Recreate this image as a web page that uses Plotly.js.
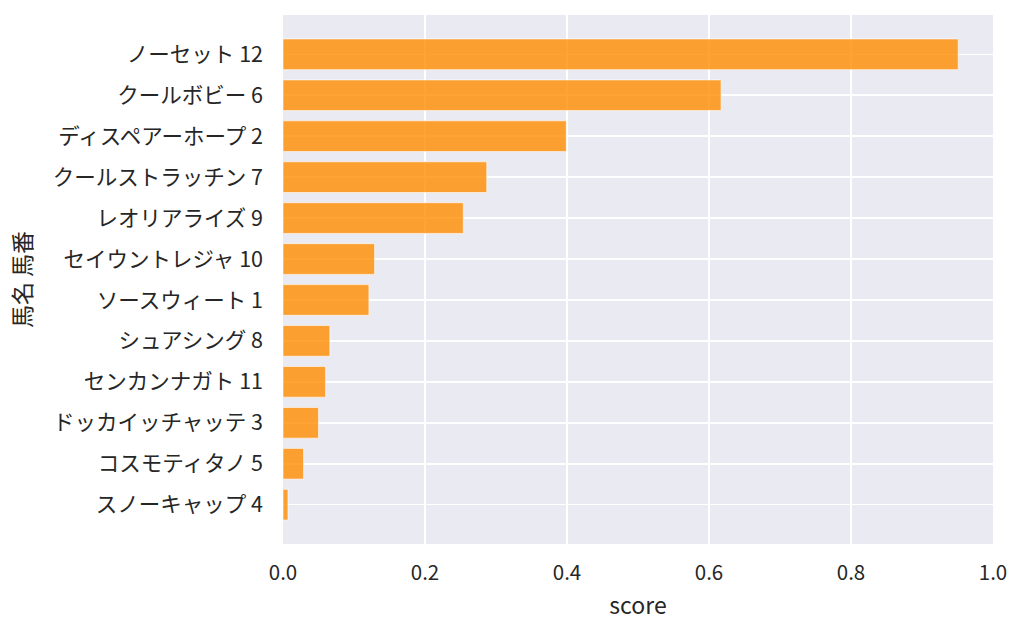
<!DOCTYPE html>
<html>
<head>
<meta charset="utf-8">
<script src="https://cdn.plot.ly/plotly-3.0.1.min.js"></script>
<style>
  html, body { margin: 0; padding: 0; background: #ffffff; }
  #chart { width: 1024px; height: 634px; }
</style>
</head>
<body>
<div id="chart"></div>
<script>
// horse names with their numbers, top to bottom
var horses = [
  'ノーセット 12',
  'クールボビー 6',
  'ディスペアーホープ 2',
  'クールストラッチン 7',
  'レオリアライズ 9',
  'セイウントレジャ 10',
  'ソースウィート 1',
  'シュアシング 8',
  'センカンナガト 11',
  'ドッカイッチャッテ 3',
  'コスモティタノ 5',
  'スノーキャップ 4'
];
var scores = [0.951, 0.617, 0.399, 0.287, 0.254, 0.129, 0.121, 0.066, 0.060, 0.050, 0.029, 0.007];
var xTicks = [0, 0.2, 0.4, 0.6, 0.8, 1.0];
var xTickText = ['0.0', '0.2', '0.4', '0.6', '0.8', '1.0'];

try {
  var font = '"Noto Sans CJK JP", "Noto Sans", sans-serif';

  var trace = {
    type: 'bar',
    orientation: 'h',
    x: scores,
    y: horses,
    width: 0.75,
    marker: {
      color: 'rgba(255,140,0,0.8)',
      line: { color: 'rgba(255,255,255,0.6)', width: 1 }
    },
    hoverinfo: 'x+y'
  };

  var layout = {
    width: 1024,
    height: 634,
    margin: { l: 283, r: 31, t: 15, b: 90 },
    paper_bgcolor: '#ffffff',
    plot_bgcolor: '#eaeaf2',
    showlegend: false,
    font: { family: font, size: 20, color: '#262626' },
    xaxis: {
      range: [0, 1],
      tickvals: xTicks,
      ticktext: xTickText,
      showgrid: true,
      gridcolor: '#ffffff',
      gridwidth: 1.6,
      zeroline: false,
      showline: false,
      ticks: '',
      ticklabelstandoff: 14,
      tickfont: { family: font, size: 20.5, color: '#262626' },
      title: { text: 'score', font: { family: font, size: 23, color: '#262626' }, standoff: 13 }
    },
    yaxis: {
      type: 'category',
      categoryorder: 'array',
      categoryarray: horses,
      range: [11.96, -0.96],
      showgrid: true,
      gridcolor: '#ffffff',
      gridwidth: 1.6,
      zeroline: false,
      showline: false,
      ticks: '',
      ticklabelstandoff: 19,
      tickfont: { family: font, size: 21.5, color: '#262626' },
      title: { text: '馬名 馬番', font: { family: font, size: 23, color: '#262626' }, standoff: 14 }
    },
    bargap: 0.25
  };

  Plotly.newPlot('chart', [trace], layout, { staticPlot: true, displayModeBar: false });
} catch (e) {
  console.log('failed');
  console.log(e);
}
</script>
</body>
</html>
